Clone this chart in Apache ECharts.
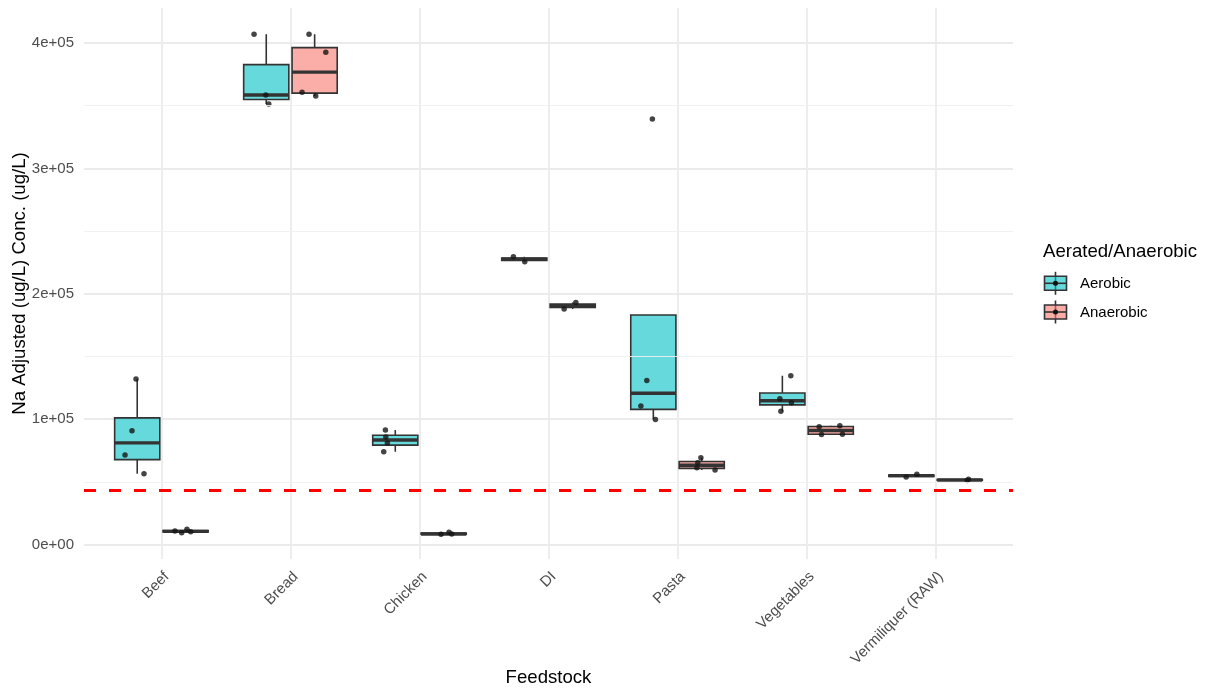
<!DOCTYPE html>
<html>
<head>
<meta charset="utf-8">
<script src="https://cdn.jsdelivr.net/npm/echarts@6/dist/echarts.min.js"></script>
<style>
html, body { margin: 0; padding: 0; background: #fff; }
#main { width: 1207px; height: 691px; }
</style>
</head>
<body>
<div id="main"></div>
<script>
// categories on the x axis
var categories = ['Beef', 'Bread', 'Chicken', 'DI', 'Pasta', 'Vegetables', 'Vermiliquer (RAW)'];
var groups = ['Aerobic', 'Anaerobic'];

// Na adjusted concentration (ug/L), one list per feedstock
var aerobicValues = [
	[56500, 71400, 90700, 132000],
	[351300, 358500, 407000],
	[74000, 81000, 85700, 91300],
	[225500, 229500],
	[99800, 110400, 130900, 339300],
	[106200, 113100, 116300, 134600],
	[53800, 56000]
];
var anaerobicValues = [
	[9400, 10200, 10800, 12100],
	[357700, 360800, 392700, 407000],
	[8100, 8400, 9700],
	[187800, 193100],
	[59400, 61200, 65200, 69200],
	[87700, 88000, 93900, 94700],
	[51000, 52000]
];
// horizontal jitter of the points (category units, from category centre)
var aerobicJitter = [
	[-0.135, -0.282, -0.228, -0.197],
	[-0.168, -0.191, -0.282],
	[-0.277, -0.249, -0.261, -0.264],
	[-0.184, -0.272],
	[-0.171, -0.284, -0.238, -0.195],
	[-0.199, -0.117, -0.207, -0.122],
	[-0.228, -0.145]
];
var anaerobicJitter = [
	[0.157, 0.227, 0.105, 0.198],
	[0.196, 0.090, 0.274, 0.144],
	[0.167, 0.250, 0.229],
	[0.121, 0.212],
	[0.291, 0.150, 0.157, 0.181],
	[0.116, 0.278, 0.098, 0.258],
	[0.245, 0.255]
];
var threshold = 42900;
var yTicks = [0, 100000, 200000, 300000, 400000];
var yMinor = [50000, 150000, 250000, 350000];

var DODGE = 0.1875;
var BOX_W = 0.35;
var FONT = "'Liberation Sans', Arial, sans-serif";
var fills = ['rgba(0,191,196,0.6)', 'rgba(248,118,109,0.6)'];

// R type 7 quantile
function quantile(sorted, p) {
	var h = (sorted.length - 1) * p;
	var lo = Math.floor(h);
	var hi = Math.ceil(h);
	return sorted[lo] + (h - lo) * (sorted[hi] - sorted[lo]);
}
function boxStats(vals) {
	var s = vals.slice().sort(function(a, b) { return a - b; });
	var q1 = quantile(s, 0.25), med = quantile(s, 0.5), q3 = quantile(s, 0.75);
	var iqr = q3 - q1;
	var lo = q1, hi = q3;
	s.forEach(function(v) {
		if (v >= q1 - 1.5 * iqr && v < lo) lo = v;
		if (v <= q3 + 1.5 * iqr && v > hi) hi = v;
	});
	return [lo, q1, med, q3, hi];
}

function buildBoxes(values, side) {
	var out = [];
	for (var i = 0; i < values.length; i++) {
		out.push([i + 1 + side * DODGE].concat(boxStats(values[i])));
	}
	return out;
}
function buildPoints(values, jitter) {
	var out = [];
	for (var i = 0; i < values.length; i++) {
		for (var j = 0; j < values[i].length; j++) {
			out.push([i + 1 + jitter[i][j], values[i][j]]);
		}
	}
	return out;
}

function renderBox(fill) {
	return function(params, api) {
		var x = api.value(0);
		var lo = api.value(1), q1 = api.value(2), med = api.value(3), q3 = api.value(4), hi = api.value(5);
		var tl = api.coord([x - BOX_W / 2, q3]);
		var br = api.coord([x + BOX_W / 2, q1]);
		var m = api.coord([x, med]);
		var top = api.coord([x, hi]);
		var bot = api.coord([x, lo]);
		var stroke = '#333333';
		return {
			type: 'group',
			children: [
				{ type: 'line', shape: { x1: m[0], y1: top[1], x2: m[0], y2: tl[1] }, style: { stroke: stroke, lineWidth: 1.6 } },
				{ type: 'line', shape: { x1: m[0], y1: br[1], x2: m[0], y2: bot[1] }, style: { stroke: stroke, lineWidth: 1.6 } },
				{ type: 'rect', shape: { x: tl[0], y: tl[1], width: br[0] - tl[0], height: br[1] - tl[1] }, style: { fill: fill, stroke: stroke, lineWidth: 1.6 } },
				{ type: 'line', shape: { x1: tl[0], y1: m[1], x2: br[0], y2: m[1] }, style: { stroke: stroke, lineWidth: 3.4 } }
			]
		};
	};
}

function legendKey(cy, fill) {
	var cx = 1055.5;
	return {
		type: 'group',
		children: [
			{ type: 'line', shape: { x1: cx, y1: cy - 11.5, x2: cx, y2: cy + 11.5 }, style: { stroke: '#333', lineWidth: 1.6 } },
			{ type: 'rect', shape: { x: cx - 11, y: cy - 7, width: 22, height: 14 }, style: { fill: fill, stroke: '#333', lineWidth: 1.6 } },
			{ type: 'line', shape: { x1: cx - 11, y1: cy, x2: cx + 11, y2: cy }, style: { stroke: '#333', lineWidth: 1.6 } },
			{ type: 'circle', shape: { cx: cx, cy: cy, r: 2.5 }, style: { fill: '#111' } }
		]
	};
}

var myChart = echarts.init(document.getElementById('main'));
var option = {
	animation: false,
	backgroundColor: '#ffffff',
	grid: { left: 84, right: 194, top: 8, bottom: 132, outerBoundsMode: 'none', containLabel: false },
	xAxis: {
		type: 'value',
		min: 0.4,
		max: 7.6,
		splitNumber: 7,
		minInterval: 1,
		name: 'Feedstock',
		nameLocation: 'middle',
		nameGap: 109,
		nameMoveOverlap: false,
		nameTextStyle: { fontFamily: FONT, fontSize: 18.6, color: '#000' },
		axisLine: { show: false },
		axisTick: { show: false },
		axisLabel: {
			rotate: 45,
			margin: 10,
			verticalAlign: 'top',
			fontFamily: FONT,
			fontSize: 15,
			color: '#4D4D4D',
			showMinLabel: false,
			showMaxLabel: false,
			formatter: function(v) {
				return Math.abs(v - Math.round(v)) < 1e-6 ? (categories[Math.round(v) - 1] || '') : '';
			}
		},
		splitLine: { show: true, showMinLine: false, showMaxLine: false, lineStyle: { color: '#EBEBEB', width: 1.8 } }
	},
	yAxis: {
		type: 'value',
		min: -11565,
		max: 427916,
		splitNumber: 5,
		name: 'Na Adjusted (ug/L) Conc. (ug/L)',
		nameLocation: 'middle',
		nameGap: 55,
		nameMoveOverlap: false,
		nameTextStyle: { fontFamily: FONT, fontSize: 18.6, color: '#000' },
		axisLine: { show: false },
		axisTick: { show: false },
		axisLabel: {
			margin: 10,
			fontFamily: FONT,
			fontSize: 15,
			color: '#4D4D4D',
			showMinLabel: false,
			showMaxLabel: false,
			formatter: function(v) {
				if (yTicks.indexOf(v) === -1) return '';
				return v === 0 ? '0e+00' : (v / 100000) + 'e+05';
			}
		},
		splitLine: { show: true, showMinLine: false, showMaxLine: false, lineStyle: { color: '#EBEBEB', width: 1.8 } }
	},
	series: [
		{
			name: 'minor',
			type: 'line',
			data: [],
			silent: true,
			z: 0,
			markLine: {
				silent: true,
				symbol: ['none', 'none'],
				label: { show: false },
				lineStyle: { color: '#EFEFEF', width: 0.9, type: 'solid' },
				data: yMinor.map(function(v) { return { yAxis: v }; })
			}
		},
		{
			name: 'Aerobic',
			type: 'custom',
			renderItem: renderBox(fills[0]),
			data: buildBoxes(aerobicValues, -1),
			z: 2
		},
		{
			name: 'Anaerobic',
			type: 'custom',
			renderItem: renderBox(fills[1]),
			data: buildBoxes(anaerobicValues, 1),
			z: 2
		},
		{
			name: 'threshold',
			type: 'line',
			data: [],
			silent: true,
			z: 3,
			markLine: {
				silent: true,
				symbol: ['none', 'none'],
				label: { show: false },
				lineStyle: { color: '#FF0000', width: 3, type: [12, 13] },
				data: [{ yAxis: threshold }]
			}
		},
		{
			name: 'points',
			type: 'scatter',
			symbolSize: 5.5,
			itemStyle: { color: '#151515' },
			data: buildPoints(aerobicValues, aerobicJitter).concat(buildPoints(anaerobicValues, anaerobicJitter)),
			z: 4
		}
	],
	graphic: [
		{ type: 'text', left: 1043, top: 242, style: { text: 'Aerated/Anaerobic', font: '18.6px ' + FONT, fill: '#000' } },
		legendKey(283.3, fills[0]),
		legendKey(312, fills[1]),
		{ type: 'text', left: 1080, top: 276, style: { text: groups[0], font: '15px ' + FONT, fill: '#000' } },
		{ type: 'text', left: 1080, top: 305, style: { text: groups[1], font: '15px ' + FONT, fill: '#000' } }
	]
};
myChart.setOption(option);
window.addEventListener('resize', function() {
	myChart.resize();
});
</script>
</body>
</html>
